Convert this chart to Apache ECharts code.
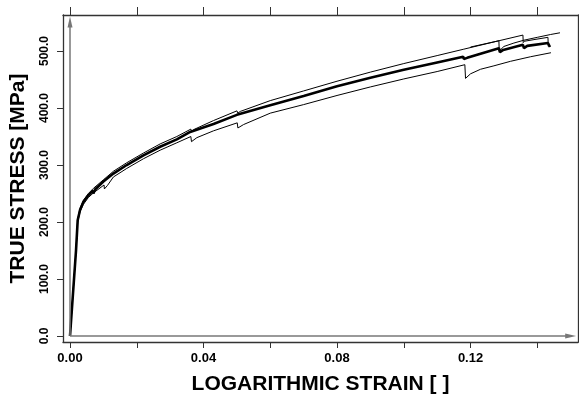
<!DOCTYPE html>
<html>
<head>
<meta charset="utf-8">
<script src="https://cdn.jsdelivr.net/npm/echarts@6/dist/echarts.min.js"></script>
<style>
  html, body { margin: 0; padding: 0; background: #fff; }
  #chart { width: 579px; height: 397px; }
</style>
</head>
<body>
<div id="chart"></div>
<script>
// axis ranges (frame extends a little past 0 on both axes)
const X_MIN = -0.0021, X_MAX = 0.1522
const Y_MIN = -10.5, Y_MAX = 563.2
const xTicks = [0, 0.02, 0.04, 0.06, 0.08, 0.10, 0.12, 0.14]
const xLabels = [0, 0.04, 0.08, 0.12]
const yTicks = [0, 100, 200, 300, 400, 500]

// main (thick) curve
const meanStrain = [0, 0.0018, 0.0023, 0.003, 0.004, 0.0055, 0.0069, 0.0070, 0.0075, 0.010, 0.013, 0.017, 0.022, 0.027, 0.032, 0.036, 0.043, 0.050, 0.060, 0.070, 0.080, 0.090, 0.100, 0.110, 0.1178, 0.1180, 0.1190, 0.1285, 0.1288, 0.1298, 0.1357, 0.1360, 0.1370, 0.1432, 0.1438]
const meanStress = [0, 150, 203, 221, 235, 247, 255, 250, 257, 271, 285, 300, 317, 332, 345, 358, 372, 388, 405, 421, 438, 453, 467, 480, 490, 486, 488, 505, 498, 502, 511, 505, 509, 514, 507]

// upper thin curve, drops at 0.1357
const upperStrain = [0, 0.0018, 0.0023, 0.003, 0.004, 0.0055, 0.007, 0.010, 0.013, 0.017, 0.022, 0.027, 0.032, 0.0362, 0.0364, 0.0370, 0.043, 0.050, 0.0503, 0.0510, 0.060, 0.070, 0.080, 0.090, 0.100, 0.110, 0.1178, 0.1285, 0.1357, 0.1358]
const upperStress = [0, 150, 205, 224, 238, 250, 259, 274, 289, 304, 321, 337, 350, 363, 359, 362, 378, 395, 391, 394, 413, 430, 447, 463, 478, 492, 503, 518, 528, 514]

// thin curve leaving the upper one at 0.1285, running out to the far right
const branchStrain = [0.1200, 0.1285, 0.1286, 0.1300, 0.1330, 0.1360, 0.1400, 0.1440, 0.1468]
const branchStress = [507, 518, 500, 508, 514, 519, 524, 529, 532]

// short thin piece ending at 0.1432
const tailStrain = [0.1360, 0.1390, 0.1432, 0.1433]
const tailStress = [517, 520, 524, 508]

// lower thin curve
const lowerStrain = [0, 0.0018, 0.0023, 0.003, 0.004, 0.0055, 0.007, 0.0102, 0.0103, 0.0112, 0.013, 0.017, 0.022, 0.027, 0.032, 0.0362, 0.0364, 0.038, 0.043, 0.0501, 0.0503, 0.052, 0.060, 0.070, 0.080, 0.090, 0.100, 0.110, 0.1183, 0.1185, 0.1200, 0.1230, 0.1270, 0.1320, 0.1380, 0.1441]
const lowerStress = [0, 150, 200, 218, 231, 243, 251, 265, 258, 264, 279, 294, 311, 326, 339, 350, 341, 348, 360, 374, 365, 371, 391, 406, 422, 437, 451, 464, 476, 452, 460, 468, 474, 482, 490, 497]

// axis arrows (from origin)
const arrowTop = 551
const arrowRight = 0.15

function pairs(xs, ys) {
  return xs.map((x, i) => [x, ys[i]])
}

const FONT = 'Liberation Sans, Arial, sans-serif'
const frameLine = { show: true, onZero: false, lineStyle: { color: '#333', width: 1.3 } }

function xAxis(pos, withLabels) {
  return {
    type: 'value',
    position: pos,
    min: X_MIN, max: X_MAX,
    axisLine: frameLine,
    axisTick: { show: true, customValues: xTicks, length: pos === 'top' ? 8 : 6, lineStyle: { color: '#333', width: 1 } },
    axisLabel: withLabels
      ? { customValues: xLabels, formatter: v => v.toFixed(2), color: '#000', fontSize: 13, fontWeight: 'bold', fontFamily: FONT, margin: 10 }
      : { show: false },
    splitLine: { show: false },
    name: withLabels ? 'LOGARITHMIC STRAIN [ ]' : '',
    nameLocation: 'middle',
    nameGap: 32,
    nameTextStyle: { color: '#000', fontSize: 21, fontWeight: 'bold', fontFamily: FONT }
  }
}

function yAxis(pos, withLabels) {
  return {
    type: 'value',
    position: pos,
    min: Y_MIN, max: Y_MAX,
    axisLine: frameLine,
    axisTick: { show: true, customValues: yTicks, length: 6, lineStyle: { color: '#333', width: 1 } },
    axisLabel: withLabels
      ? { customValues: yTicks, formatter: v => v.toFixed(1), rotate: 90, color: '#000', fontSize: 12, fontWeight: 'bold', fontFamily: FONT, margin: 12 }
      : { show: false },
    splitLine: { show: false },
    name: withLabels ? 'TRUE STRESS [MPa]' : '',
    nameLocation: 'middle',
    nameRotate: 90,
    nameGap: 34,
    nameTextStyle: { color: '#000', fontSize: 21, fontWeight: 'bold', fontFamily: FONT }
  }
}

function curve(name, data, width, z) {
  return {
    name, type: 'line', data, z,
    showSymbol: false, symbol: 'none',
    lineStyle: { color: '#000', width },
    silent: true, animation: false
  }
}

const chart = echarts.init(document.getElementById('chart'), null, { renderer: 'canvas' })
chart.setOption({
  animation: false,
  backgroundColor: '#fff',
  grid: { left: 63, top: 15, right: 1, bottom: 55, outerBoundsMode: 'none' },
  xAxis: [xAxis('bottom', true), xAxis('top', false)],
  yAxis: [yAxis('left', true), yAxis('right', false)],
  series: [
    {
      name: 'axes', type: 'line', data: [], z: 1,
      markLine: {
        silent: true, animation: false,
        symbol: ['none', 'triangle'],
        symbolSize: [5, 11],
        lineStyle: { color: '#777', width: 1.5, type: 'solid' },
        label: { show: false },
        data: [
          [{ coord: [0, 0] }, { coord: [0, arrowTop] }],
          [{ coord: [0, 0] }, { coord: [arrowRight, 0] }]
        ]
      }
    },
    curve('lower', pairs(lowerStrain, lowerStress), 1, 3),
    curve('upper', pairs(upperStrain, upperStress), 1, 3),
    curve('branch', pairs(branchStrain, branchStress), 1, 3),
    curve('tail', pairs(tailStrain, tailStress), 1, 3),
    curve('mean', pairs(meanStrain, meanStress), 2.6, 4)
  ]
})
</script>
</body>
</html>
